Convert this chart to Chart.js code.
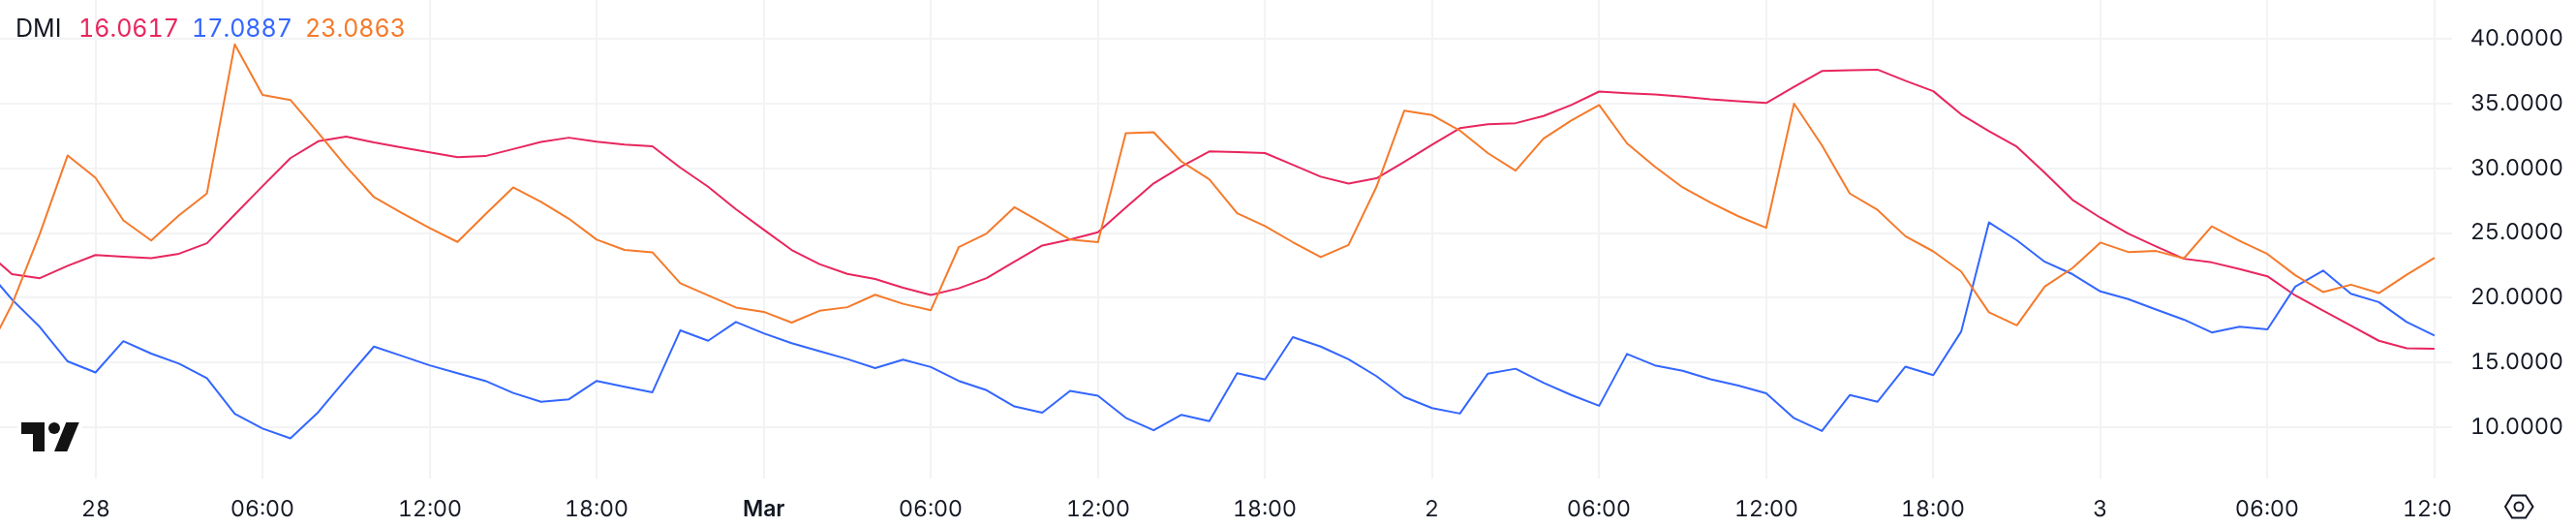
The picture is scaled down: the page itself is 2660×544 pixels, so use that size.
<!DOCTYPE html>
<html>
<head>
<meta charset="utf-8">
<title>DMI</title>
<script src="https://cdn.jsdelivr.net/npm/chart.js@4/dist/chart.umd.min.js"></script>
<style>
  @font-face {
    font-family: "InterTab";
    src: local("Inter"), local("Inter Regular");
    font-feature-settings: "tnum";
  }
  html, body { margin: 0; padding: 0; background: #ffffff; }
  #wrap { position: relative; width: 2660px; height: 544px; }
  #legend {
    position: absolute; left: 0; top: 13px; height: 32px; width: 460px;
    font: 25px/32px Inter, sans-serif; font-variant-numeric: tabular-nums;
    white-space: nowrap; pointer-events: none;
  }
  #legend span { position: absolute; top: 0; }
</style>
</head>
<body>
<div id="wrap">
  <canvas id="dmiCanvas"></canvas>
  <div id="legend"></div>
</div>
<script>
// Hours counted from the "28" gridline, one point per hour
const hours = [
  -4, -3, -2, -1, 0, 1, 2, 3, 4, 5, 6, 7, 8, 9, 10, 11, 12, 13, 14, 15, 16, 17, 18, 19, 20,
  21, 22, 23, 24, 25, 26, 27, 28, 29, 30, 31, 32, 33, 34, 35, 36, 37, 38, 39, 40, 41, 42, 43,
  44, 45, 46, 47, 48, 49, 50, 51, 52, 53, 54, 55, 56, 57, 58, 59, 60, 61, 62, 63, 64, 65, 66,
  67, 68, 69, 70, 71, 72, 73, 74, 75, 76, 77, 78, 79, 80, 81, 82, 83, 84
];

const adxValues = [
  23.71, 21.82, 21.51, 22.47, 23.30, 23.17, 23.06, 23.40, 24.21, 26.42, 28.62, 30.78, 32.08,
  32.44, 32.00, 31.61, 31.22, 30.86, 30.94, 31.48, 32.03, 32.36, 32.05, 31.82, 31.69,
  30.05, 28.57, 26.83, 25.25, 23.69, 22.60, 21.84, 21.45, 20.78, 20.21, 20.73, 21.51, 22.78,
  24.03, 24.49, 25.06, 26.96, 28.83, 30.13, 31.30, 31.25, 31.17, 30.26,
  29.35, 28.81, 29.22, 30.49, 31.82, 33.09, 33.40, 33.48, 34.03, 34.88, 35.92, 35.79, 35.69,
  35.53, 35.32, 35.17, 35.04, 36.29, 37.51, 37.56, 37.61, 36.75, 35.95,
  34.16, 32.86, 31.66, 29.66, 27.56, 26.18, 24.96, 23.97, 23.01, 22.73, 22.21, 21.66, 20.18,
  19.01, 17.84, 16.68, 16.10, 16.0617
];

const plusDiValues = [
  22.39, 19.87, 17.74, 15.09, 14.23, 16.65, 15.69, 14.91, 13.79, 11.04, 9.90, 9.14, 11.17,
  13.74, 16.23, 15.51, 14.78, 14.18, 13.58, 12.65, 11.97, 12.16, 13.58, 13.12, 12.70,
  17.48, 16.68, 18.13, 17.25, 16.49, 15.87, 15.27, 14.57, 15.22, 14.65, 13.58, 12.86, 11.61,
  11.12, 12.81, 12.44, 10.73, 9.77, 10.96, 10.47, 14.18, 13.69, 16.96,
  16.23, 15.25, 13.95, 12.34, 11.48, 11.06, 14.13, 14.52, 13.43, 12.49, 11.66, 15.66, 14.78,
  14.36, 13.71, 13.22, 12.62, 10.70, 9.71, 12.49, 11.97, 14.68, 14.03,
  17.38, 25.82, 24.44, 22.78, 21.82, 20.49, 19.90, 19.09, 18.31, 17.32, 17.77, 17.56, 20.86,
  22.10, 20.31, 19.66, 18.13, 17.0887
];

const minusDiValues = [
  15.30, 19.48, 24.94, 30.99, 29.27, 25.97, 24.42, 26.36, 28.05, 39.56, 35.66, 35.27, 32.73,
  30.13, 27.77, 26.55, 25.39, 24.31, 26.44, 28.52, 27.40, 26.10, 24.49, 23.69, 23.51,
  21.12, 20.18, 19.25, 18.91, 18.08, 18.99, 19.27, 20.23, 19.53, 19.04, 23.90, 24.96, 26.99,
  25.77, 24.49, 24.29, 32.70, 32.78, 30.52, 29.14, 26.52, 25.53, 24.29,
  23.14, 24.08, 28.55, 34.44, 34.10, 32.91, 31.17, 29.82, 32.29, 33.69, 34.88, 31.92, 30.13,
  28.52, 27.35, 26.29, 25.40, 34.99, 31.77, 28.05, 26.78, 24.75, 23.58,
  22.03, 18.88, 17.87, 20.86, 22.29, 24.26, 23.53, 23.61, 23.04, 25.51, 24.39, 23.38, 21.74,
  20.44, 21.01, 20.36, 21.77, 23.0863
];

const xTickHours = [0, 6, 12, 18, 24, 30, 36, 42, 48, 54, 60, 66, 72, 78, 84];
const xTickLabels = ['28', '06:00', '12:00', '18:00', 'Mar', '06:00', '12:00', '18:00', '2', '06:00', '12:00', '18:00', '3', '06:00', '12:00'];
const yTickValues = [10, 15, 20, 25, 30, 35, 40];

const legendTitle = 'DMI';
const legendValues = ['16.0617', '17.0887', '23.0863'];

const FONT = "InterTab, Inter, sans-serif";
const TEXT_COLOR = '#131722';
const GRID_COLOR = '#f2f3f4';
const ADX_COLOR = '#e8265e';
const PLUS_COLOR = '#3366ff';
const MINUS_COLOR = '#f57a2b';

function toPoints(values) {
  return values.map((v, i) => ({ x: hours[i], y: v }));
}

function addLegendText(text, left, color) {
  const span = document.createElement('span');
  span.textContent = text;
  span.style.left = left + 'px';
  span.style.color = color;
  document.getElementById('legend').appendChild(span);
}

addLegendText(legendTitle, 16, TEXT_COLOR);
addLegendText(legendValues[0], 81, ADX_COLOR);
addLegendText(legendValues[1], 198, PLUS_COLOR);
addLegendText(legendValues[2], 315, MINUS_COLOR);

// Logo and the little settings hexagon
const overlayPlugin = {
  id: 'overlay',
  afterDraw(chart) {
    const ctx = chart.ctx;
    const area = chart.chartArea;
    ctx.save();

    // last time label gets cut off at the price axis
    ctx.fillStyle = '#ffffff';
    ctx.fillRect(area.right, area.bottom + 1, chart.width - area.right, chart.height - area.bottom - 1);

    // logo
    ctx.fillStyle = '#ffffff';
    ctx.fillRect(18, 432, 67, 38);
    ctx.fillStyle = '#131313';
    ctx.beginPath();
    ctx.moveTo(22, 436);
    ctx.lineTo(46, 436);
    ctx.lineTo(46, 466);
    ctx.lineTo(34, 466);
    ctx.lineTo(34, 448);
    ctx.lineTo(22, 448);
    ctx.closePath();
    ctx.fill();
    ctx.beginPath();
    ctx.arc(56, 442, 6, 0, Math.PI * 2);
    ctx.fill();
    ctx.beginPath();
    ctx.moveTo(68.3, 436);
    ctx.lineTo(81.7, 436);
    ctx.lineTo(69.3, 466);
    ctx.lineTo(56, 466);
    ctx.closePath();
    ctx.fill();

    // settings icon
    ctx.strokeStyle = TEXT_COLOR;
    ctx.lineWidth = 2;
    ctx.beginPath();
    ctx.moveTo(2587, 523);
    ctx.lineTo(2594, 511.5);
    ctx.lineTo(2608, 511.5);
    ctx.lineTo(2615.5, 523);
    ctx.lineTo(2608, 534.5);
    ctx.lineTo(2594, 534.5);
    ctx.closePath();
    ctx.stroke();
    ctx.beginPath();
    ctx.arc(2601, 523, 4.5, 0, Math.PI * 2);
    ctx.stroke();
    ctx.restore();
  }
};

function drawChart() {
  new Chart(document.getElementById('dmiCanvas').getContext('2d'), {
    type: 'line',
    data: {
      datasets: [
        { label: 'ADX', data: toPoints(adxValues), borderColor: ADX_COLOR, order: 3 },
        { label: '+DI', data: toPoints(plusDiValues), borderColor: PLUS_COLOR, order: 2 },
        { label: '-DI', data: toPoints(minusDiValues), borderColor: MINUS_COLOR, order: 1 }
      ]
    },
    options: {
      responsive: true,
      maintainAspectRatio: false,
      animation: false,
      layout: { padding: 0 },
      elements: {
        point: { radius: 0 },
        line: { borderWidth: 2, tension: 0, borderJoinStyle: 'round' }
      },
      plugins: {
        legend: { display: false },
        tooltip: { enabled: false }
      },
      scales: {
        x: {
          type: 'linear',
          min: -3.43,
          max: 84.63,
          afterBuildTicks(scale) {
            scale.ticks = xTickHours.map(h => ({ value: h }));
          },
          afterFit(scale) {
            scale.height = 50;
            scale.paddingLeft = 0;
            scale.paddingRight = 0;
          },
          grid: { color: GRID_COLOR, lineWidth: 2, drawTicks: false },
          border: { display: false },
          ticks: {
            autoSkip: false,
            maxRotation: 0,
            padding: 18,
            color: TEXT_COLOR,
            font: ctx => (ctx.tick && ctx.tick.value === 24
              ? { family: 'Inter, sans-serif', size: 23, weight: '600' }
              : { family: FONT, size: 23, weight: '400' }),
            callback: function (value) {
              return xTickLabels[xTickHours.indexOf(value)];
            }
          }
        },
        y: {
          position: 'right',
          min: 6.04,
          max: 42.99,
          afterBuildTicks(scale) {
            scale.ticks = yTickValues.map(v => ({ value: v }));
          },
          afterFit(scale) {
            scale.width = 128;
            scale.paddingTop = 0;
            scale.paddingBottom = 0;
          },
          grid: { color: GRID_COLOR, lineWidth: 2, drawTicks: false },
          border: { display: false },
          ticks: {
            padding: 19,
            color: TEXT_COLOR,
            font: { family: FONT, size: 23 },
            callback: function (value) {
              return value.toFixed(4);
            }
          }
        }
      }
    },
    plugins: [overlayPlugin]
  });
}

document.fonts.load('23px InterTab').then(drawChart, drawChart);
</script>
</body>
</html>
